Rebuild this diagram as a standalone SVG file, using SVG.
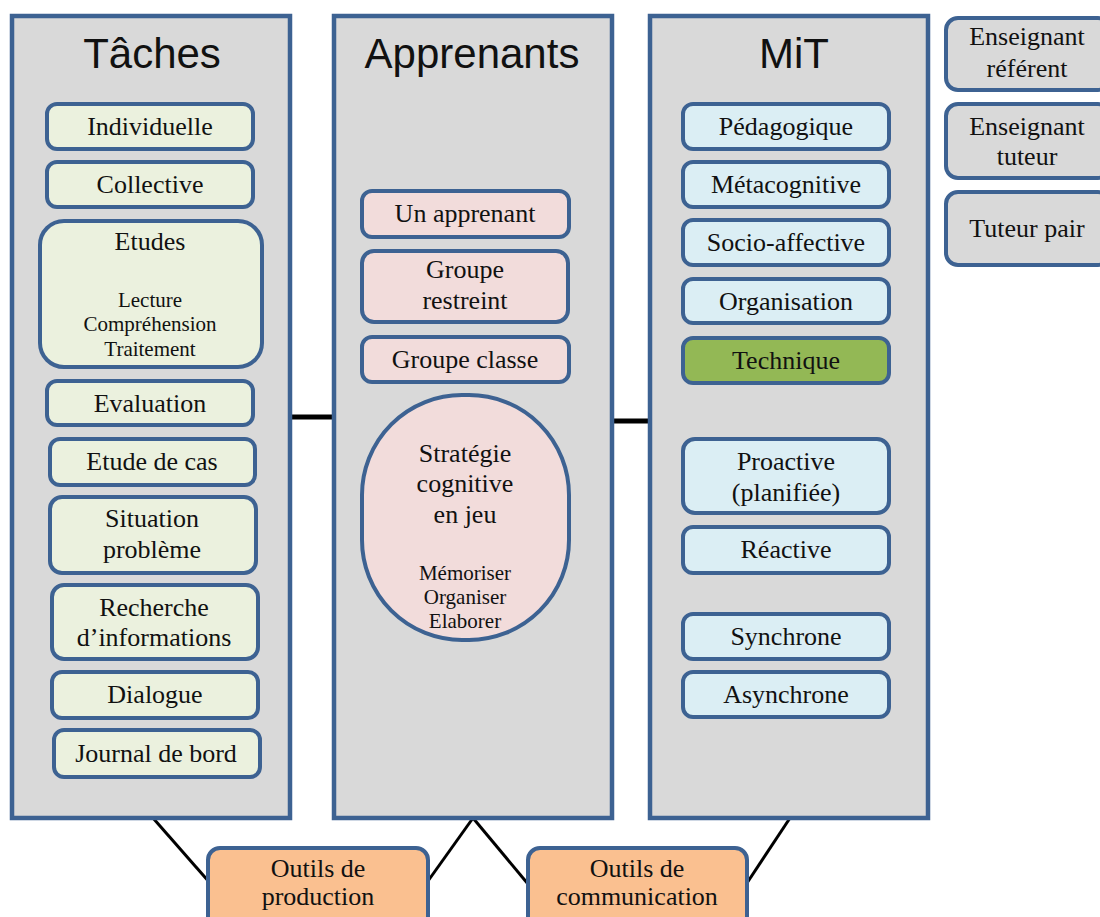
<svg xmlns="http://www.w3.org/2000/svg" width="1100" height="917" viewBox="0 0 1100 917">
<style>
.col{fill:#d9d9d9;stroke:#3d6292;stroke-width:4.5}
.box{stroke:#3d6292;stroke-width:4}
.t{fill:#ebf1de}.a{fill:#f2dcdb}.m{fill:#dbeef4}.g{fill:#93b855}.o{fill:#fac090}.r{fill:#d9d9d9}
.ttl{font-family:"Liberation Sans",Arial,sans-serif;font-size:42px;fill:#111;text-anchor:middle}
.lb{font-family:"Liberation Serif","Times New Roman",serif;font-size:26px;fill:#111;text-anchor:middle}
.sm{font-family:"Liberation Serif","Times New Roman",serif;font-size:21px;fill:#111;text-anchor:middle}
.cn{stroke:#000;fill:none}
</style>
<rect width="1100" height="917" fill="#fff"/>
<g id="connectors">
<line class="cn" x1="290" y1="417" x2="334" y2="417" stroke-width="5"/>
<line class="cn" x1="612" y1="421" x2="652" y2="421" stroke-width="5"/>
<line class="cn" x1="153" y1="818" x2="210" y2="883" stroke-width="3"/>
<line class="cn" x1="473" y1="818" x2="428" y2="881" stroke-width="3"/>
<line class="cn" x1="473" y1="818" x2="528" y2="884" stroke-width="3"/>
<line class="cn" x1="790" y1="818" x2="747" y2="883" stroke-width="3"/>
</g>
<g id="taches">
<rect class="col" x="12" y="16" width="278" height="802"/>
<text class="ttl" x="152" y="68">Tâches</text>
</g>
<g id="apprenants">
<rect class="col" x="334" y="16" width="278" height="802"/>
<text class="ttl" x="472" y="68">Apprenants</text>
</g>
<g id="mit">
<rect class="col" x="650" y="16" width="278" height="802"/>
<text class="ttl" x="794" y="68">MiT</text>
</g>
<g id="individuelle"><rect class="box t" x="47" y="104" width="206" height="45" rx="10"/><text class="lb" x="150" y="135">Individuelle</text></g>
<g id="collective"><rect class="box t" x="47" y="162" width="206" height="45" rx="10"/><text class="lb" x="150" y="193">Collective</text></g>
<g id="etudes"><rect class="box t" x="40" y="221" width="222" height="146" rx="24"/>
<text class="lb" x="150" y="250">Etudes</text>
<text class="sm" x="150" y="307">Lecture</text>
<text class="sm" x="150" y="331">Compréhension</text>
<text class="sm" x="150" y="356">Traitement</text></g>
<g id="evaluation"><rect class="box t" x="47" y="381" width="206" height="44" rx="10"/><text class="lb" x="150" y="412">Evaluation</text></g>
<g id="etude-de-cas"><rect class="box t" x="50" y="439" width="205" height="46" rx="10"/><text class="lb" x="152" y="470">Etude de cas</text></g>
<g id="situation"><rect class="box t" x="50" y="497" width="206" height="76" rx="12"/><text class="lb" x="152" y="527">Situation</text><text class="lb" x="152" y="558">problème</text></g>
<g id="recherche"><rect class="box t" x="52" y="585" width="206" height="74" rx="12"/><text class="lb" x="154" y="616">Recherche</text><text class="lb" x="154" y="646">d’informations</text></g>
<g id="dialogue"><rect class="box t" x="52" y="672" width="206" height="46" rx="10"/><text class="lb" x="155" y="703">Dialogue</text></g>
<g id="journal"><rect class="box t" x="54" y="730" width="206" height="47" rx="10"/><text class="lb" x="156" y="762">Journal de bord</text></g>
<g id="un-apprenant"><rect class="box a" x="362" y="191" width="207" height="46" rx="10"/><text class="lb" x="465" y="222">Un apprenant</text></g>
<g id="groupe-restreint"><rect class="box a" x="362" y="251" width="206" height="71" rx="12"/><text class="lb" x="465" y="278">Groupe</text><text class="lb" x="465" y="309">restreint</text></g>
<g id="groupe-classe"><rect class="box a" x="362" y="337" width="207" height="45" rx="10"/><text class="lb" x="465" y="368">Groupe classe</text></g>
<g id="strategie"><rect class="box a" x="362" y="395" width="207" height="245" rx="100" ry="100"/>
<text class="lb" x="465" y="462">Stratégie</text>
<text class="lb" x="465" y="492">cognitive</text>
<text class="lb" x="465" y="523">en jeu</text>
<text class="sm" x="465" y="580">Mémoriser</text>
<text class="sm" x="465" y="604">Organiser</text>
<text class="sm" x="465" y="628">Elaborer</text></g>
<g id="pedagogique"><rect class="box m" x="683" y="104" width="206" height="45" rx="10"/><text class="lb" x="786" y="135">Pédagogique</text></g>
<g id="metacognitive"><rect class="box m" x="683" y="162" width="206" height="45" rx="10"/><text class="lb" x="786" y="193">Métacognitive</text></g>
<g id="socio-affective"><rect class="box m" x="683" y="220" width="206" height="45" rx="10"/><text class="lb" x="786" y="251">Socio-affective</text></g>
<g id="organisation"><rect class="box m" x="683" y="279" width="206" height="44" rx="10"/><text class="lb" x="786" y="310">Organisation</text></g>
<g id="technique"><rect class="box g" x="683" y="338" width="206" height="45" rx="10"/><text class="lb" x="786" y="369">Technique</text></g>
<g id="proactive"><rect class="box m" x="683" y="439" width="206" height="74" rx="12"/><text class="lb" x="786" y="470">Proactive</text><text class="lb" x="786" y="501">(planifiée)</text></g>
<g id="reactive"><rect class="box m" x="683" y="527" width="206" height="46" rx="10"/><text class="lb" x="786" y="558">Réactive</text></g>
<g id="synchrone"><rect class="box m" x="683" y="614" width="206" height="45" rx="10"/><text class="lb" x="786" y="645">Synchrone</text></g>
<g id="asynchrone"><rect class="box m" x="683" y="672" width="206" height="45" rx="10"/><text class="lb" x="786" y="703">Asynchrone</text></g>
<g id="enseignant-referent"><rect class="box r" x="946" y="18" width="164" height="72" rx="12"/><text class="lb" x="1027" y="45">Enseignant</text><text class="lb" x="1027" y="77">référent</text></g>
<g id="enseignant-tuteur"><rect class="box r" x="946" y="104" width="164" height="74" rx="12"/><text class="lb" x="1027" y="135">Enseignant</text><text class="lb" x="1027" y="165">tuteur</text></g>
<g id="tuteur-pair"><rect class="box r" x="946" y="192" width="164" height="73" rx="12"/><text class="lb" x="1027" y="237">Tuteur pair</text></g>
<g id="outils-production"><rect class="box o" x="208" y="848" width="220" height="90" rx="12"/><text class="lb" x="318" y="877">Outils de</text><text class="lb" x="318" y="905">production</text></g>
<g id="outils-communication"><rect class="box o" x="528" y="848" width="219" height="90" rx="12"/><text class="lb" x="637" y="877">Outils de</text><text class="lb" x="637" y="905">communication</text></g>
</svg>
